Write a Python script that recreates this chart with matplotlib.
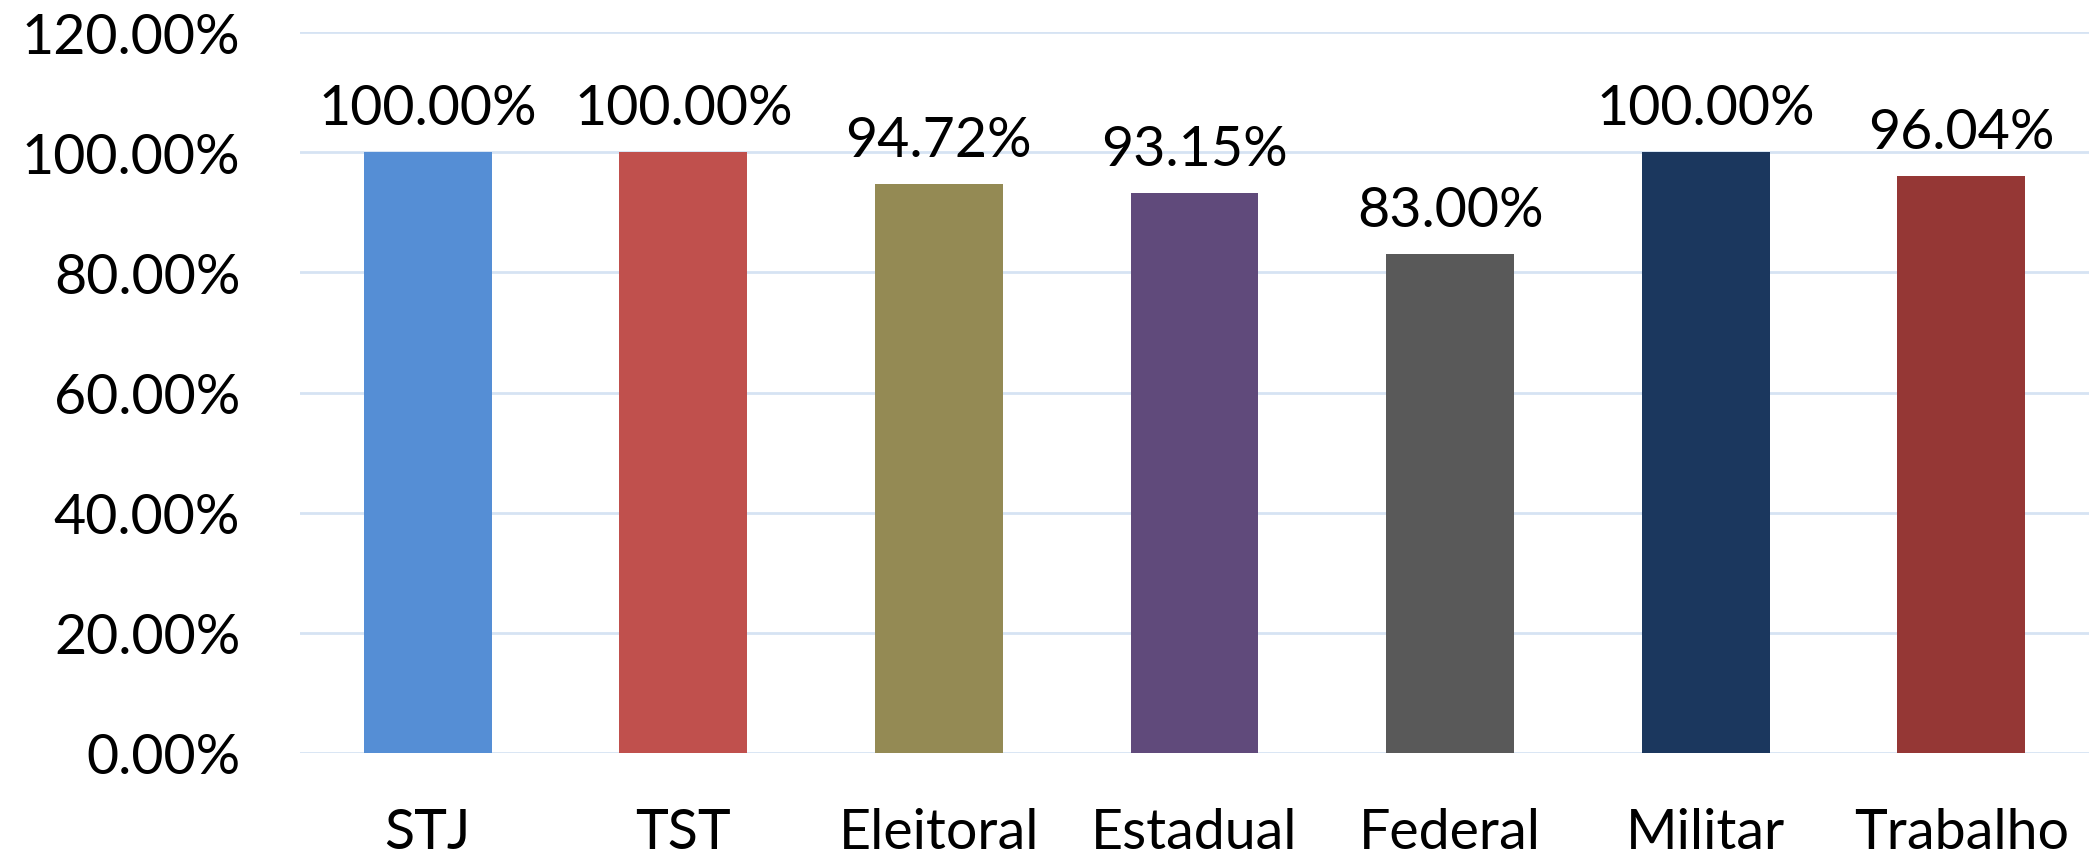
import matplotlib.pyplot as plt
from matplotlib.ticker import PercentFormatter

plt.rcParams['font.family'] = ['Lato', 'DejaVu Sans']

categorias = ['STJ', 'TST', 'Eleitoral', 'Estadual', 'Federal', 'Militar', 'Trabalho']
valores = [100.00, 100.00, 94.72, 93.15, 83.00, 100.00, 96.04]
cores = ['#558ED5', '#C0504D', '#948A54', '#604A7B', '#595959', '#1B375E', '#953735']
rotulos = ['100.00%', '100.00%', '94.72%', '93.15%', '83.00%', '100.00%', '96.04%']

fig = plt.figure(figsize=(20.89, 8.62), dpi=100)
ax = fig.add_axes([0.1436, 0.1253, 0.8564, 0.8364])

x = range(len(categorias))
barras = ax.bar(x, [v / 100 for v in valores], width=0.5, color=cores, zorder=3)

for b, txt in zip(barras, rotulos):
    ax.annotate(txt, (b.get_x() + b.get_width() / 2, b.get_height()),
                xytext=(0, 13), textcoords='offset points',
                ha='center', va='bottom', fontsize=40)

ax.set_xlim(-0.5, len(categorias) - 0.5)
ax.set_ylim(0, 1.2)
ax.set_yticks([0, 0.2, 0.4, 0.6, 0.8, 1.0, 1.2])
ax.yaxis.set_major_formatter(PercentFormatter(1.0, decimals=2))
ax.set_xticks(list(x))
ax.set_xticklabels(categorias)
ax.tick_params(axis='both', length=0, labelsize=40)
ax.tick_params(axis='y', pad=43)
ax.tick_params(axis='x', pad=39)

ax.grid(axis='y', color='#D6E3F3', linewidth=2, zorder=0)
for s in ax.spines.values():
    s.set_visible(False)

fig.savefig('out.png', dpi=100)
